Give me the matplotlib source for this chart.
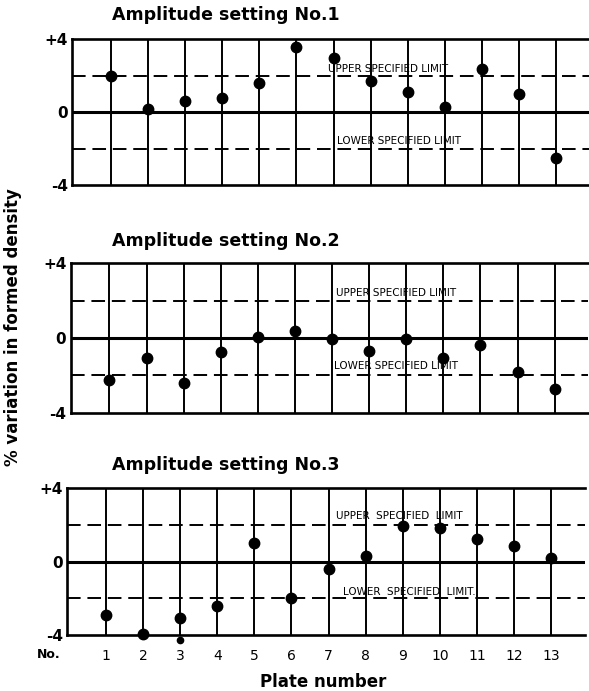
import matplotlib
matplotlib.use("Agg")
import matplotlib.pyplot as plt

# ---- data ----
plates = list(range(1, 14))
amp1 = [2.0, 0.2, 0.6, 0.8, 1.6, 3.6, 3.0, 1.7, 1.1, 0.3, 2.4, 1.0, -2.5]
amp2 = [-2.25, -1.05, -2.4, -0.75, 0.05, 0.4, -0.05, -0.7, -0.05, -1.05, -0.4, -1.8, -2.75]
amp3 = [-2.9, -3.95, -3.1, -2.4, 1.0, -2.0, -0.4, 0.3, 1.95, 1.85, 1.25, 0.85, 0.2]
extra3_x = [3]
extra3_y = [-4.25]
titles = ["Amplitude setting No.1", "Amplitude setting No.2", "Amplitude setting No.3"]
upper_limit = 2
lower_limit = -2
ytick_vals = [-4, 0, 4]
ytick_labels = ["-4", "0", "+4"]
upper_text = ["UPPER SPECIFIED LIMIT", "UPPER SPECIFIED LIMIT", "UPPER  SPECIFIED  LIMIT"]
lower_text = ["LOWER SPECIFIED LIMIT", "LOWER SPECIFIED LIMIT", "LOWER  SPECIFIED  LIMIT."]

# ---- layout ----
W, H = 589, 691
fig = plt.figure(figsize=(W / 100, H / 100), dpi=100)
unit = 37.1
xlim = (-0.05, 13.9)
panels = [
    dict(left=72, top=39.3, bottom=185.3, data=amp1,
         up=(6.85, 2.1), lo=(7.1, -1.85), title_y=15),
    dict(left=70.5, top=263.3, bottom=412.7, data=amp2,
         up=(7.1, 2.15), lo=(7.05, -1.75), title_y=241),
    dict(left=67, top=488.3, bottom=635, data=amp3,
         up=(7.2, 2.2), lo=(7.4, -1.95), title_y=465),
]

for i, p in enumerate(panels):
    width = (xlim[1] - xlim[0]) * unit
    ax = fig.add_axes([p["left"] / W, (H - p["bottom"]) / H,
                       width / W, (p["bottom"] - p["top"]) / H])
    ax.set_xlim(*xlim)
    ax.set_ylim(-4, 4)
    for s in ["left", "top", "bottom"]:
        ax.spines[s].set_linewidth(1.9)
    ax.spines["right"].set_visible(False)
    ax.set_xticks(plates)
    ax.grid(axis="x", color="black", linewidth=1.4)
    ax.set_axisbelow(True)
    ax.axhline(0, color="black", linewidth=2.2)
    ax.axhline(upper_limit, color="black", linewidth=1.4, dashes=(7, 3.5))
    ax.axhline(lower_limit, color="black", linewidth=1.4, dashes=(7, 3.5))
    ax.plot(plates, p["data"], "o", color="black", markersize=7.5,
            clip_on=False, zorder=5)
    if i == 2:
        ax.plot(extra3_x, extra3_y, "o", color="black", markersize=4.5,
                clip_on=False, zorder=5)
    ax.set_yticks(ytick_vals)
    ax.set_yticklabels(ytick_labels, fontsize=11, fontweight="bold")
    ax.tick_params(axis="y", length=0, pad=3)
    if i < 2:
        ax.tick_params(axis="x", length=0, labelbottom=False)
    else:
        ax.tick_params(axis="x", length=0, pad=10, labelsize=10)
        ax.set_xticklabels([str(v) for v in plates])
        ax.text(-0.55, -0.135, "No.", transform=ax.get_xaxis_transform(),
                ha="center", va="center", fontsize=9, fontweight="bold")
    ax.text(p["up"][0], p["up"][1], upper_text[i], fontsize=7.5, ha="left",
            va="bottom", zorder=6)
    ax.text(p["lo"][0], p["lo"][1], lower_text[i], fontsize=7.5, ha="left",
            va="bottom", zorder=6)
    fig.text(226 / W, 1 - p["title_y"] / H, titles[i], ha="center",
             va="center", fontsize=12.5, fontweight="bold")

fig.text(13 / W, 1 - 327 / H, "% variation in formed density", rotation=90,
         ha="center", va="center", fontsize=12, fontweight="bold")
fig.text(323 / W, 1 - 682 / H, "Plate number", ha="center", va="center",
         fontsize=12, fontweight="bold")

fig.savefig("out.png", dpi=100)
